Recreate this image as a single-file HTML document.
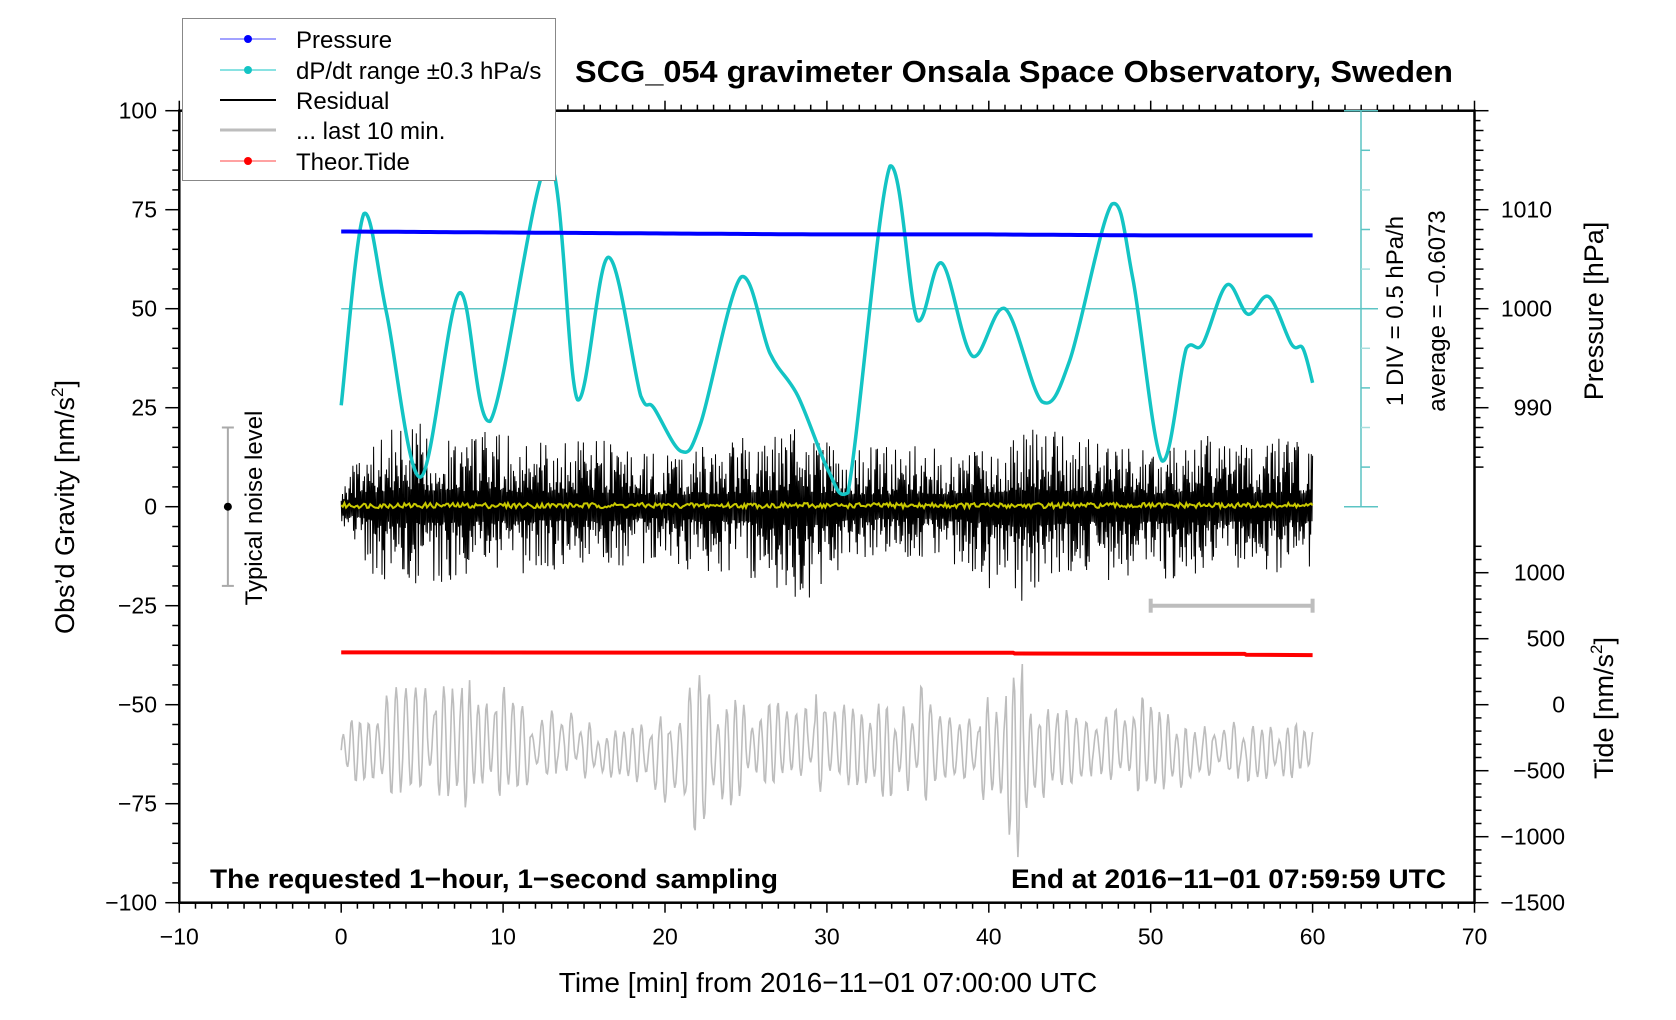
<!DOCTYPE html>
<html><head><meta charset="utf-8"><style>
html,body{margin:0;padding:0;background:#fff}
svg{display:block}
text{font-family:"Liberation Sans",Arial,sans-serif;fill:#000}
</style></head><body>
<svg id="c" width="1676" height="1020" viewBox="0 0 1676 1020" xmlns="http://www.w3.org/2000/svg"></svg>
<script>
// ---- data ----
const dpdtTimes = [0,1.4,2.8,4.9,7.3,9.2,12.8,14.6,16.5,18.5,19.3,21,22.2,24.7,26.5,28.2,30.1,31.3,33.9,35.6,37.1,39,41,43.3,45,47.6,48.9,50.7,52.2,53.2,54.7,56,57.3,58.7,59.4,60];
const dpdtGrav = [25.6,74,49,7.5,54,21.6,87,27,63,28,25,14,21,58,38.6,28,9,3.5,86,47,61.5,38,50,26.5,37,76.4,57.5,11.6,40,41,56,48.6,53,41,40,31.3];
const pressTimes = [0,10,20,30,40,50,60];
const pressVals = [1007.8,1007.7,1007.6,1007.5,1007.5,1007.4,1007.4];
const tideTimes = [0,41.5,41.6,55.8,55.9,60];
const tideVals = [396,393,388,385,378,376];
const residMin = [0,2,4,6,8,10,12,14,16,18,20,22,24,26,28,30,32,34,36,38,40,42,44,46,48,50,52,54,56,58,60];
const residUp = [6,16,20,18,18,17,16,15,16,14,13,14,15,17,19,15,14,14,15,14,16,18,19,16,17,14,17,16,15,16,14];
const residLo = [-5,-16,-19,-18,-17,-16,-15,-15,-16,-13,-13,-15,-15,-18,-22,-20,-13,-13,-13,-14,-19,-23,-20,-17,-17,-17,-17,-16,-17,-16,-14];
const grayMin = [0,2,4,6,8,10,12,14,16,18,20,22,24,26,28,30,32,34,36,38,40,42,44,46,48,50,52,54,56,58,60];
const grayUp = [-53,-50,-40,-40,-42,-45,-52,-50,-56,-52,-52,-40,-46,-50,-47,-45,-48,-50,-44,-52,-45,-39,-48,-52,-47,-47,-55,-52,-55,-54,-55];
const grayLo = [-70,-73,-76,-78,-78,-73,-71,-68,-70,-72,-75,-86,-78,-70,-72,-73,-74,-74,-75,-71,-78,-90,-74,-70,-73,-73,-72,-70,-70,-70,-67];
const xTicks = [-10,0,10,20,30,40,50,60,70];
const yTicks = [100,75,50,25,0,-25,-50,-75,-100];
const pTicks = [1010,1000,990];
const tTicks = [1000,500,0,-500,-1000,-1500];
const avgDpdt = -0.6073;

// ---- scales ----
const X0=179.3, X1=1474.5, Y0=110.7, Y1=902.7;
const xS = t => X0 + (t+10)/80*(X1-X0);
const yS = g => Y0 + (100-g)/200*(Y1-Y0);
const pG = p => 50 + (p-1000)*2.5;
const tG = v => -50 + v/30;
const dG = d => 50 + (d-avgDpdt)/0.5*10;
const dpdtVals = dpdtGrav.map(g => avgDpdt + (g-50)/20);

const svg = document.getElementById('c');
const NS='http://www.w3.org/2000/svg';
function el(tag, attrs, parent){const e=document.createElementNS(NS,tag);for(const k in attrs)e.setAttribute(k,attrs[k]);(parent||svg).appendChild(e);return e;}
function interp(xs, ys, t){for(let i=0;i<xs.length-1;i++){if(t<=xs[i+1]){const f=(t-xs[i])/(xs[i+1]-xs[i]);return ys[i]+f*(ys[i+1]-ys[i]);}}return ys[ys.length-1];}
function hash(i){const s=Math.sin(i*12.9898+78.233)*43758.5453;return s-Math.floor(s);}

const frame = el('rect',{x:X0,y:Y0,width:X1-X0,height:Y1-Y0,fill:'none',stroke:'#000','stroke-width':2.5});



const tg = el('g',{stroke:'#000','stroke-width':1.5});


for(let t=-10;t<=70;t++){const x=xS(t);const L=(t%10===0)?10:6;
  el('line',{x1:x,y1:Y1,x2:x,y2:Y1+L},tg); el('line',{x1:x,y1:Y0,x2:x,y2:Y0-L},tg);}
for(let g=-100;g<=100;g+=5){const y=yS(g);const L=(g%25===0)?14:7; el('line',{x1:X0,y1:y,x2:X0-L,y2:y},tg);}
for(let p=1020;p>=980;p--){const y=yS(pG(p));if(y<Y0||y>yS(10))continue;const L=(p%10===0)?14:(p%2===0?9:6);el('line',{x1:X1,y1:y,x2:X1+L,y2:y},tg);}
for(let v=1500;v>=-1500;v-=100){const y=yS(tG(v));if(y<yS(-10)||y>Y1)continue;const L=(v%500===0)?14:7;el('line',{x1:X1,y1:y,x2:X1+L,y2:y},tg);}

xTicks.forEach(t=>{const e=el('text',{x:xS(t),y:Y1+42,'font-size':23,'text-anchor':'middle'});e.textContent=(t<0?'\u2212'+(-t):t);
  
  });
yTicks.forEach(g=>{const e=el('text',{x:157,y:yS(g)+8,'font-size':23,'text-anchor':'end'});e.textContent=(g<0?'\u2212'+(-g):g);
  
  });
pTicks.forEach(p=>{const e=el('text',{x:1552,y:yS(pG(p))+8,'font-size':23,'text-anchor':'end'});e.textContent=p;
  
  });
tTicks.forEach(v=>{const e=el('text',{x:1565,y:yS(tG(v))+8,'font-size':23,'text-anchor':'end'});e.textContent=(v<0?'\u2212'+(-v):v);
  
  });

const sc = el('g',{stroke:'#5cc4c4','stroke-width':1.5});


const sx=1361;
el('line',{x1:sx,y1:yS(100),x2:sx,y2:yS(0)},sc);
el('line',{x1:sx-17,y1:yS(100),x2:sx+17,y2:yS(100)},sc);
el('line',{x1:sx-17,y1:yS(0),x2:sx+17,y2:yS(0)},sc);
for(let k=1;k<10;k++){el('line',{x1:sx,y1:yS(k*10),x2:sx+9,y2:yS(k*10),stroke:k%2?'#5cc4c4':'#a8dede'},sc);}
const cl = el('line',{x1:xS(0),y1:yS(50),x2:sx+17,y2:yS(50),stroke:'#5cc4c4','stroke-width':1.5});



// gray last 10 min line
let gp=[];
for(let i=0;i<=900;i++){const t=i/15;const ph=Math.sin(i*Math.PI/4.2+1.2*Math.sin(i*0.05)+0.8*Math.sin(i*0.013));
  const up=interp(grayMin,grayUp,t), lo=interp(grayMin,grayLo,t);const mid=(up+lo)/2, amp=(up-lo)/2*(0.35+0.65*hash(Math.floor(i/8)));
  gp.push(xS(t).toFixed(1)+','+yS(mid+amp*ph).toFixed(1));}
const gl = el('polyline',{points:gp.join(' '),fill:'none',stroke:'#bdbdbd','stroke-width':1.6});



// residual
let rp=[];
for(let i=0;i<=1500;i++){const t=i/25;const up=interp(residMin,residUp,t)*1.1, lo=interp(residMin,residLo,t)*1.1;
  const h=hash(i);const v=(i%2===0?up:lo)*(0.2+0.8*h*h);rp.push(xS(t).toFixed(1)+','+yS(v).toFixed(1));}
const rl = el('polyline',{points:rp.join(' '),fill:'none',stroke:'#000','stroke-width':1});


let yp=[];
for(let i=0;i<=600;i++){const t=i/10;yp.push(xS(t).toFixed(1)+','+yS(0.3+1.3*(hash(i+999)-0.5)).toFixed(1));}
const yl = el('polyline',{points:yp.join(' '),fill:'none',stroke:'#c8c800','stroke-width':2});



// dP/dt curve (smooth Catmull-Rom through data, clamped tangents)
const cpts = dpdtTimes.map((t,i)=>[xS(t), yS(dG(dpdtVals[i]))]);
let d='M'+cpts[0][0].toFixed(1)+','+cpts[0][1].toFixed(1);
const lo_=Math.min, hi_=Math.max;
for(let i=0;i<cpts.length-1;i++){const p0=cpts[Math.max(0,i-1)],p1=cpts[i],p2=cpts[i+1],p3=cpts[Math.min(cpts.length-1,i+2)];
  let c1=[p1[0]+(p2[0]-p0[0])/6,p1[1]+(p2[1]-p0[1])/6], c2=[p2[0]-(p3[0]-p1[0])/6,p2[1]-(p3[1]-p1[1])/6];
  const ymin=lo_(p1[1],p2[1]), ymax=hi_(p1[1],p2[1]);
  c1[1]=hi_(ymin-6,lo_(ymax+6,c1[1])); c2[1]=hi_(ymin-6,lo_(ymax+6,c2[1]));
  d+=' C'+c1.map(v=>v.toFixed(1)).join(',')+' '+c2.map(v=>v.toFixed(1)).join(',')+' '+p2.map(v=>v.toFixed(1)).join(',');}
const cy = el('path',{d:d,fill:'none',stroke:'#13c4c4','stroke-width':3.5,'stroke-linejoin':'round'});



let pp=[];
for(let i=0;i<=120;i++){const t=i/2;pp.push(xS(t).toFixed(1)+','+yS(pG(interp(pressTimes,pressVals,t))).toFixed(1));}
const pl = el('polyline',{points:pp.join(' '),fill:'none',stroke:'#0000ff','stroke-width':4});



let tp=[];
for(let i=0;i<tideTimes.length;i++){tp.push(xS(tideTimes[i]).toFixed(1)+','+yS(tG(tideVals[i])).toFixed(1));}
const tl = el('polyline',{points:tp.join(' '),fill:'none',stroke:'#ff0000','stroke-width':4});



const gb = el('g',{stroke:'#bdbdbd','stroke-width':4});


el('line',{x1:xS(50),y1:yS(-25),x2:xS(60),y2:yS(-25)},gb);
el('line',{x1:xS(50),y1:yS(-25)-7,x2:xS(50),y2:yS(-25)+7},gb);
el('line',{x1:xS(60),y1:yS(-25)-7,x2:xS(60),y2:yS(-25)+7},gb);

const nb = el('g',{stroke:'#aaa','stroke-width':2});


const nx=xS(-7);
el('line',{x1:nx,y1:yS(20),x2:nx,y2:yS(-20)},nb);
el('line',{x1:nx-6,y1:yS(20),x2:nx+6,y2:yS(20)},nb);
el('line',{x1:nx-6,y1:yS(-20),x2:nx+6,y2:yS(-20)},nb);
el('circle',{cx:nx,cy:yS(0),r:4,fill:'#000',stroke:'none'},nb);
</script>

<svg width="1676" height="1020" style="position:absolute;left:0;top:0" xmlns="http://www.w3.org/2000/svg">
<text x="1014" y="82" font-size="31" font-weight="bold" text-anchor="middle" textLength="878" lengthAdjust="spacingAndGlyphs">SCG_054 gravimeter Onsala Space Observatory, Sweden</text>
<text x="210" y="888" font-size="27" font-weight="bold" textLength="568" lengthAdjust="spacingAndGlyphs">The requested 1−hour, 1−second sampling</text>
<text x="1011" y="888" font-size="27" font-weight="bold" textLength="435" lengthAdjust="spacingAndGlyphs">End at 2016−11−01 07:59:59 UTC</text>
<text x="828" y="992" font-size="28" text-anchor="middle">Time [min] from 2016−11−01 07:00:00 UTC</text>
<text transform="translate(74,507) rotate(-90)" font-size="27" text-anchor="middle">Obs’d Gravity [nm/s<tspan font-size="17" dy="-11">2</tspan><tspan dy="11">]</tspan></text>
<text transform="translate(262,508) rotate(-90)" font-size="24" text-anchor="middle">Typical noise level</text>
<text transform="translate(1403,311) rotate(-90)" font-size="24" text-anchor="middle">1 DIV = 0.5 hPa/h</text>
<text transform="translate(1445,311) rotate(-90)" font-size="24" text-anchor="middle">average = −0.6073</text>
<text transform="translate(1603,311) rotate(-90)" font-size="27" text-anchor="middle">Pressure [hPa]</text>
<text transform="translate(1613,708) rotate(-90)" font-size="27" text-anchor="middle">Tide [nm/s<tspan font-size="17" dy="-11">2</tspan><tspan dy="11">]</tspan></text>
<g>
<rect x="182.5" y="18.5" width="373" height="162" fill="#fff" stroke="#888" stroke-width="1"/>
<g><line x1="220" y1="39" x2="276" y2="39" stroke="#4444ff" stroke-width="1"/><circle cx="248" cy="39" r="4" fill="#0000ff"/><text x="296" y="48" font-size="24">Pressure</text></g>
<g><line x1="220" y1="70" x2="276" y2="70" stroke="#13c4c4" stroke-width="1"/><circle cx="248" cy="70" r="4" fill="#13c4c4"/><text x="296" y="79" font-size="24">dP/dt range ±0.3 hPa/s</text></g>
<g><line x1="220" y1="100" x2="276" y2="100" stroke="#000" stroke-width="2"/><text x="296" y="109" font-size="24">Residual</text></g>
<g><line x1="220" y1="130" x2="276" y2="130" stroke="#bdbdbd" stroke-width="3"/><text x="296" y="139" font-size="24">... last 10 min.</text></g>
<g><line x1="220" y1="161" x2="276" y2="161" stroke="#ff4444" stroke-width="1"/><circle cx="248" cy="161" r="4" fill="#ff0000"/><text x="296" y="170" font-size="24">Theor.Tide</text></g>
</g>
</svg>
</body></html>
